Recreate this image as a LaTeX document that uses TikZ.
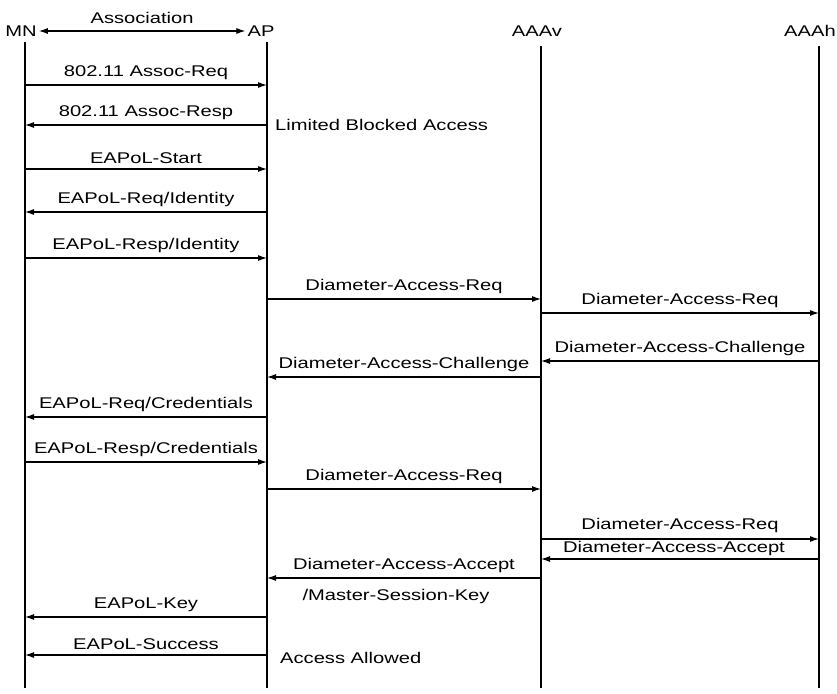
\documentclass[tikz,border=0pt]{standalone}
\usepackage{fontspec}
\setmainfont{Liberation Sans}[FakeStretch=1.3]
\usetikzlibrary{arrows.meta}

\begin{document}
\begin{tikzpicture}[
    x=1pt, y=-1pt,
    >={Latex[length=9pt,width=6pt]},
    every node/.style={font=\fontsize{15.5}{18}\selectfont, inner sep=2pt},
    life/.style={line width=1.3pt},
    msg/.style={->, line width=1.1pt},
    lbl/.style={above, yshift=2.5pt}
]
\useasboundingbox (0,0) rectangle (837,693);

% entities
\node (mn) at (21,31) {MN};
\node (ap) at (261,31) {AP};
\node (aaav) at (537,31) {AAAv};
\node (aaah) at (810,31) {AAAh};

\draw[<->, line width=1.1pt] (mn) -- (ap) node[midway, above, yshift=5pt] {Association};

% lifelines
\coordinate (mnT) at (25,42);   \coordinate (mnB) at (25,688);
\coordinate (apT) at (267,42);  \coordinate (apB) at (267,688);
\coordinate (avT) at (541,46);  \coordinate (avB) at (541,688);
\coordinate (ahT) at (819,46);  \coordinate (ahB) at (819,688);
\draw[life] (mnT) -- (mnB);
\draw[life] (apT) -- (apB);
\draw[life] (avT) -- (avB);
\draw[life] (ahT) -- (ahB);

% message rows
\coordinate (r1) at (0,85);
\coordinate (r2) at (0,125);
\coordinate (r3) at (0,169);
\coordinate (r4) at (0,212);
\coordinate (r5) at (0,258);
\coordinate (r6) at (0,299);
\coordinate (r7) at (0,313);
\coordinate (r8) at (0,361);
\coordinate (r9) at (0,377);
\coordinate (r10) at (0,417);
\coordinate (r11) at (0,462);
\coordinate (r12) at (0,489);
\coordinate (r13) at (0,539);
\coordinate (r14) at (0,559);
\coordinate (r15) at (0,578);
\coordinate (r16) at (0,617);
\coordinate (r17) at (0,655);

\draw[msg] (mnT |- r1) -- (apT |- r1) node[lbl, midway] {802.11 Assoc-Req};
\draw[msg] (apT |- r2) -- (mnT |- r2) node[lbl, midway] {802.11 Assoc-Resp};
\node (limited) [anchor=west, xshift=6pt] at (apT |- r2) {Limited Blocked Access};
\draw[msg] (mnT |- r3) -- (apT |- r3) node[lbl, midway] {EAPoL-Start};
\draw[msg] (apT |- r4) -- (mnT |- r4) node[lbl, midway] {EAPoL-Req/Identity};
\draw[msg] (mnT |- r5) -- (apT |- r5) node[lbl, midway] {EAPoL-Resp/Identity};
\draw[msg] (apT |- r6) -- (avT |- r6) node[lbl, midway] {Diameter-Access-Req};
\draw[msg] (avT |- r7) -- (ahT |- r7) node[lbl, midway] {Diameter-Access-Req};
\draw[msg] (ahT |- r8) -- (avT |- r8) node[lbl, midway] {Diameter-Access-Challenge};
\draw[msg] (avT |- r9) -- (apT |- r9) node[lbl, midway] {Diameter-Access-Challenge};
\draw[msg] (apT |- r10) -- (mnT |- r10) node[lbl, midway] {EAPoL-Req/Credentials};
\draw[msg] (mnT |- r11) -- (apT |- r11) node[lbl, midway] {EAPoL-Resp/Credentials};
\draw[msg] (apT |- r12) -- (avT |- r12) node[lbl, midway] {Diameter-Access-Req};
\draw[msg] (avT |- r13) -- (ahT |- r13) node[lbl, midway, yshift=1pt] {Diameter-Access-Req};
\draw[msg] (ahT |- r14) -- (avT |- r14) node[lbl, midway, yshift=-1.5pt, xshift=-6pt] {Diameter-Access-Accept};
\draw[msg] (avT |- r15) -- (apT |- r15) node[lbl, midway] {Diameter-Access-Accept}
    node[below, midway, yshift=-9pt, xshift=-8pt] {/Master-Session-Key};
\draw[msg] (apT |- r16) -- (mnT |- r16) node[lbl, midway] {EAPoL-Key};
\draw[msg] (apT |- r17) -- (mnT |- r17) node[lbl, midway] {EAPoL-Success};
\node (allowed) [anchor=west, xshift=11pt, yshift=-3pt] at (apT |- r17) {Access Allowed};

\end{tikzpicture}
\end{document}
